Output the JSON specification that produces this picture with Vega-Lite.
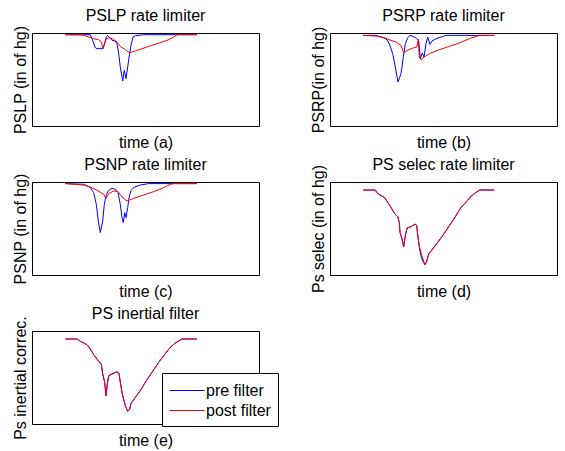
{
  "$schema": "https://vega.github.io/schema/vega-lite/v6.json",
  "background": "white",
  "padding": {"left": 11, "top": 7, "right": 4, "bottom": 2},
  "bounds": "flush",
  "config": {
    "font": "Liberation Sans",
    "view": {"stroke": "black", "strokeWidth": 1},
    "title": {"fontSize": 16, "fontWeight": "normal", "color": "black", "font": "Liberation Sans", "offset": 1},
    "axis": {"domain": false, "ticks": false, "labels": false, "grid": false, "titleFontSize": 16, "titleFontWeight": "normal", "titleColor": "black", "titleFont": "Liberation Sans"},
    "axisX": {"titlePadding": 8},
    "axisY": {"titlePadding": 4},
    "line": {"strokeWidth": 1}
  },
  "datasets": {
    "a": [
      {"series": "pre filter", "time": 33.3, "value": 91.3},
      {"series": "pre filter", "time": 45, "value": 91.3},
      {"series": "pre filter", "time": 58.3, "value": 91.3},
      {"series": "pre filter", "time": 60, "value": 87.3},
      {"series": "pre filter", "time": 63.3, "value": 78.3},
      {"series": "pre filter", "time": 65, "value": 77.3},
      {"series": "pre filter", "time": 71, "value": 77.3},
      {"series": "pre filter", "time": 74.3, "value": 89},
      {"series": "pre filter", "time": 75.7, "value": 90.6},
      {"series": "pre filter", "time": 77.7, "value": 88.3},
      {"series": "pre filter", "time": 80, "value": 85.6},
      {"series": "pre filter", "time": 83.3, "value": 85},
      {"series": "pre filter", "time": 85, "value": 82.3},
      {"series": "pre filter", "time": 86.7, "value": 72.3},
      {"series": "pre filter", "time": 88.3, "value": 59},
      {"series": "pre filter", "time": 90.7, "value": 45},
      {"series": "pre filter", "time": 92.3, "value": 55.6},
      {"series": "pre filter", "time": 94, "value": 47.3},
      {"series": "pre filter", "time": 95.7, "value": 59},
      {"series": "pre filter", "time": 97.3, "value": 70.6},
      {"series": "pre filter", "time": 99, "value": 80.6},
      {"series": "pre filter", "time": 101, "value": 89},
      {"series": "pre filter", "time": 103.3, "value": 90.3},
      {"series": "pre filter", "time": 111.7, "value": 91.3},
      {"series": "pre filter", "time": 165, "value": 91.3},
      {"series": "post filter", "time": 33.3, "value": 91.3},
      {"series": "post filter", "time": 51.7, "value": 91},
      {"series": "post filter", "time": 55, "value": 89.6},
      {"series": "post filter", "time": 61.7, "value": 87.3},
      {"series": "post filter", "time": 66.7, "value": 86.3},
      {"series": "post filter", "time": 69.3, "value": 84},
      {"series": "post filter", "time": 71, "value": 77.3},
      {"series": "post filter", "time": 72.7, "value": 82.3},
      {"series": "post filter", "time": 74.3, "value": 87.3},
      {"series": "post filter", "time": 77.7, "value": 88.3},
      {"series": "post filter", "time": 81.7, "value": 86.6},
      {"series": "post filter", "time": 85, "value": 84},
      {"series": "post filter", "time": 88.3, "value": 79.6},
      {"series": "post filter", "time": 93.3, "value": 76.3},
      {"series": "post filter", "time": 97.7, "value": 73.3},
      {"series": "post filter", "time": 105, "value": 75.6},
      {"series": "post filter", "time": 115, "value": 79},
      {"series": "post filter", "time": 125, "value": 82.3},
      {"series": "post filter", "time": 135, "value": 85.6},
      {"series": "post filter", "time": 141.7, "value": 89},
      {"series": "post filter", "time": 145, "value": 91.3},
      {"series": "post filter", "time": 165, "value": 91.3}
    ],
    "b": [
      {"series": "pre filter", "time": 33.3, "value": 90.6},
      {"series": "pre filter", "time": 46, "value": 90.6},
      {"series": "pre filter", "time": 51, "value": 89},
      {"series": "pre filter", "time": 56, "value": 87.3},
      {"series": "pre filter", "time": 59.3, "value": 82.3},
      {"series": "pre filter", "time": 62.7, "value": 72.3},
      {"series": "pre filter", "time": 65.3, "value": 59},
      {"series": "pre filter", "time": 68, "value": 44},
      {"series": "pre filter", "time": 71, "value": 52.3},
      {"series": "pre filter", "time": 73.3, "value": 69},
      {"series": "pre filter", "time": 75.3, "value": 82.3},
      {"series": "pre filter", "time": 77.7, "value": 88.3},
      {"series": "pre filter", "time": 80, "value": 90.6},
      {"series": "pre filter", "time": 83.3, "value": 89.6},
      {"series": "pre filter", "time": 86.7, "value": 87.3},
      {"series": "pre filter", "time": 88.7, "value": 85.6},
      {"series": "pre filter", "time": 90.3, "value": 67.3},
      {"series": "pre filter", "time": 92.3, "value": 73},
      {"series": "pre filter", "time": 94, "value": 69},
      {"series": "pre filter", "time": 96, "value": 82.3},
      {"series": "pre filter", "time": 97.7, "value": 89},
      {"series": "pre filter", "time": 100, "value": 81.6},
      {"series": "pre filter", "time": 102, "value": 85},
      {"series": "pre filter", "time": 106, "value": 87.3},
      {"series": "pre filter", "time": 111, "value": 89},
      {"series": "pre filter", "time": 116, "value": 90.6},
      {"series": "pre filter", "time": 164.3, "value": 90.6},
      {"series": "post filter", "time": 33.3, "value": 90.6},
      {"series": "post filter", "time": 46, "value": 90},
      {"series": "post filter", "time": 54.3, "value": 88.3},
      {"series": "post filter", "time": 61, "value": 85.6},
      {"series": "post filter", "time": 66, "value": 84},
      {"series": "post filter", "time": 71, "value": 80.6},
      {"series": "post filter", "time": 73.7, "value": 73},
      {"series": "post filter", "time": 76, "value": 75},
      {"series": "post filter", "time": 81, "value": 77.3},
      {"series": "post filter", "time": 86.7, "value": 79},
      {"series": "post filter", "time": 88.3, "value": 86.3},
      {"series": "post filter", "time": 89.3, "value": 69},
      {"series": "post filter", "time": 91, "value": 66.3},
      {"series": "post filter", "time": 94.3, "value": 69},
      {"series": "post filter", "time": 99.3, "value": 72.3},
      {"series": "post filter", "time": 109.3, "value": 76.3},
      {"series": "post filter", "time": 119.3, "value": 79.6},
      {"series": "post filter", "time": 129.3, "value": 83},
      {"series": "post filter", "time": 139.3, "value": 87.3},
      {"series": "post filter", "time": 147.7, "value": 90},
      {"series": "post filter", "time": 149.3, "value": 90.6},
      {"series": "post filter", "time": 164.3, "value": 90.6}
    ],
    "c": [
      {"series": "pre filter", "time": 33.3, "value": 91.4},
      {"series": "pre filter", "time": 51.7, "value": 90.7},
      {"series": "pre filter", "time": 58.3, "value": 87.4},
      {"series": "pre filter", "time": 61.7, "value": 82.4},
      {"series": "pre filter", "time": 64.3, "value": 70.7},
      {"series": "pre filter", "time": 66.3, "value": 54},
      {"series": "pre filter", "time": 68.3, "value": 42.4},
      {"series": "pre filter", "time": 70.7, "value": 54},
      {"series": "pre filter", "time": 72.3, "value": 70.7},
      {"series": "pre filter", "time": 74.3, "value": 80.7},
      {"series": "pre filter", "time": 76.7, "value": 84.7},
      {"series": "pre filter", "time": 80, "value": 86.7},
      {"series": "pre filter", "time": 83.3, "value": 85.7},
      {"series": "pre filter", "time": 86, "value": 82.4},
      {"series": "pre filter", "time": 88.3, "value": 70.7},
      {"series": "pre filter", "time": 90, "value": 57.4},
      {"series": "pre filter", "time": 91.3, "value": 52.4},
      {"series": "pre filter", "time": 92.7, "value": 62.4},
      {"series": "pre filter", "time": 94, "value": 57.4},
      {"series": "pre filter", "time": 95.7, "value": 67.4},
      {"series": "pre filter", "time": 97, "value": 77.4},
      {"series": "pre filter", "time": 99, "value": 84.7},
      {"series": "pre filter", "time": 102.3, "value": 88},
      {"series": "pre filter", "time": 108.3, "value": 90},
      {"series": "pre filter", "time": 116.7, "value": 91.4},
      {"series": "pre filter", "time": 165, "value": 91.4},
      {"series": "post filter", "time": 33.3, "value": 91.4},
      {"series": "post filter", "time": 51.7, "value": 90},
      {"series": "post filter", "time": 58.3, "value": 88},
      {"series": "post filter", "time": 65, "value": 84.7},
      {"series": "post filter", "time": 71.7, "value": 80.7},
      {"series": "post filter", "time": 74, "value": 76.7},
      {"series": "post filter", "time": 76.7, "value": 81.4},
      {"series": "post filter", "time": 81.7, "value": 84},
      {"series": "post filter", "time": 86, "value": 83.4},
      {"series": "post filter", "time": 90, "value": 78},
      {"series": "post filter", "time": 95, "value": 74},
      {"series": "post filter", "time": 101.7, "value": 76.7},
      {"series": "post filter", "time": 111.7, "value": 80},
      {"series": "post filter", "time": 121.7, "value": 83.4},
      {"series": "post filter", "time": 131.7, "value": 87.4},
      {"series": "post filter", "time": 138.3, "value": 90.7},
      {"series": "post filter", "time": 141.7, "value": 91.4},
      {"series": "post filter", "time": 165, "value": 91.4}
    ],
    "d": [
      {"series": "pre filter", "time": 33.3, "value": 85},
      {"series": "pre filter", "time": 45.3, "value": 85},
      {"series": "pre filter", "time": 46.7, "value": 82.7},
      {"series": "pre filter", "time": 49.3, "value": 80.3},
      {"series": "pre filter", "time": 54.3, "value": 77.7},
      {"series": "pre filter", "time": 57.7, "value": 72.7},
      {"series": "pre filter", "time": 61, "value": 67.7},
      {"series": "pre filter", "time": 64.3, "value": 61.7},
      {"series": "pre filter", "time": 67.7, "value": 58.3},
      {"series": "pre filter", "time": 69.3, "value": 52.7},
      {"series": "pre filter", "time": 70, "value": 42.7},
      {"series": "pre filter", "time": 72, "value": 36},
      {"series": "pre filter", "time": 73.7, "value": 28.3},
      {"series": "pre filter", "time": 75.3, "value": 39.3},
      {"series": "pre filter", "time": 77, "value": 47},
      {"series": "pre filter", "time": 81, "value": 48.3},
      {"series": "pre filter", "time": 85.3, "value": 51},
      {"series": "pre filter", "time": 86.7, "value": 49.3},
      {"series": "pre filter", "time": 88, "value": 37.7},
      {"series": "pre filter", "time": 89.3, "value": 27.7},
      {"series": "pre filter", "time": 91.3, "value": 17.7},
      {"series": "pre filter", "time": 93.3, "value": 12.7},
      {"series": "pre filter", "time": 95, "value": 10.3},
      {"series": "pre filter", "time": 96.7, "value": 13.7},
      {"series": "pre filter", "time": 98.7, "value": 21},
      {"series": "pre filter", "time": 102.7, "value": 26},
      {"series": "pre filter", "time": 107.7, "value": 32.7},
      {"series": "pre filter", "time": 112.7, "value": 39.3},
      {"series": "pre filter", "time": 119.3, "value": 49.3},
      {"series": "pre filter", "time": 126, "value": 59.3},
      {"series": "pre filter", "time": 131, "value": 67.7},
      {"series": "pre filter", "time": 136, "value": 72.7},
      {"series": "pre filter", "time": 140, "value": 77.7},
      {"series": "pre filter", "time": 146, "value": 82.7},
      {"series": "pre filter", "time": 150, "value": 85},
      {"series": "pre filter", "time": 164.3, "value": 85},
      {"series": "post filter", "time": 33.3, "value": 85},
      {"series": "post filter", "time": 45.3, "value": 85},
      {"series": "post filter", "time": 46.7, "value": 82.7},
      {"series": "post filter", "time": 49.3, "value": 80.3},
      {"series": "post filter", "time": 54.3, "value": 77.7},
      {"series": "post filter", "time": 57.7, "value": 72.7},
      {"series": "post filter", "time": 61, "value": 67.7},
      {"series": "post filter", "time": 64.3, "value": 61.7},
      {"series": "post filter", "time": 67.7, "value": 58.3},
      {"series": "post filter", "time": 69.3, "value": 52.7},
      {"series": "post filter", "time": 70, "value": 42.7},
      {"series": "post filter", "time": 72, "value": 36},
      {"series": "post filter", "time": 73.7, "value": 28.3},
      {"series": "post filter", "time": 75.3, "value": 39.3},
      {"series": "post filter", "time": 77, "value": 47},
      {"series": "post filter", "time": 81, "value": 48.3},
      {"series": "post filter", "time": 85.3, "value": 51},
      {"series": "post filter", "time": 86.7, "value": 49.3},
      {"series": "post filter", "time": 88, "value": 37.7},
      {"series": "post filter", "time": 89.3, "value": 29.3},
      {"series": "post filter", "time": 91.3, "value": 21},
      {"series": "post filter", "time": 93.3, "value": 15},
      {"series": "post filter", "time": 95, "value": 10.3},
      {"series": "post filter", "time": 96.7, "value": 13.7},
      {"series": "post filter", "time": 98.7, "value": 21},
      {"series": "post filter", "time": 102.7, "value": 26},
      {"series": "post filter", "time": 107.7, "value": 32.7},
      {"series": "post filter", "time": 112.7, "value": 39.3},
      {"series": "post filter", "time": 119.3, "value": 49.3},
      {"series": "post filter", "time": 126, "value": 59.3},
      {"series": "post filter", "time": 131, "value": 67.7},
      {"series": "post filter", "time": 136, "value": 72.7},
      {"series": "post filter", "time": 140, "value": 77.7},
      {"series": "post filter", "time": 146, "value": 82.7},
      {"series": "post filter", "time": 150, "value": 85},
      {"series": "post filter", "time": 164.3, "value": 85}
    ],
    "e": [
      {"series": "pre filter", "time": 33.3, "value": 85},
      {"series": "pre filter", "time": 45, "value": 85},
      {"series": "pre filter", "time": 48.3, "value": 82.7},
      {"series": "pre filter", "time": 55, "value": 79.3},
      {"series": "pre filter", "time": 58.3, "value": 75},
      {"series": "pre filter", "time": 61.7, "value": 69.3},
      {"series": "pre filter", "time": 66.7, "value": 62.7},
      {"series": "pre filter", "time": 69.3, "value": 60},
      {"series": "pre filter", "time": 70.7, "value": 50},
      {"series": "pre filter", "time": 72.7, "value": 41.7},
      {"series": "pre filter", "time": 74, "value": 28.3},
      {"series": "pre filter", "time": 75.3, "value": 40},
      {"series": "pre filter", "time": 76.7, "value": 48.3},
      {"series": "pre filter", "time": 80, "value": 50},
      {"series": "pre filter", "time": 85, "value": 52.3},
      {"series": "pre filter", "time": 87, "value": 50.7},
      {"series": "pre filter", "time": 88.3, "value": 41.7},
      {"series": "pre filter", "time": 90.3, "value": 30},
      {"series": "pre filter", "time": 93.3, "value": 18.3},
      {"series": "pre filter", "time": 95.7, "value": 12.7},
      {"series": "pre filter", "time": 97.7, "value": 15},
      {"series": "pre filter", "time": 99, "value": 20.7},
      {"series": "pre filter", "time": 103.3, "value": 26.7},
      {"series": "pre filter", "time": 108.3, "value": 33.3},
      {"series": "pre filter", "time": 113.3, "value": 41.7},
      {"series": "pre filter", "time": 120, "value": 51.7},
      {"series": "pre filter", "time": 126.7, "value": 61.7},
      {"series": "pre filter", "time": 131.7, "value": 68.3},
      {"series": "pre filter", "time": 138.3, "value": 76.7},
      {"series": "pre filter", "time": 143.3, "value": 81},
      {"series": "pre filter", "time": 150, "value": 85},
      {"series": "pre filter", "time": 165, "value": 85},
      {"series": "post filter", "time": 33.3, "value": 85},
      {"series": "post filter", "time": 45, "value": 85},
      {"series": "post filter", "time": 48.3, "value": 82.7},
      {"series": "post filter", "time": 55, "value": 79.3},
      {"series": "post filter", "time": 58.3, "value": 75},
      {"series": "post filter", "time": 61.7, "value": 69.3},
      {"series": "post filter", "time": 66.7, "value": 62.7},
      {"series": "post filter", "time": 69.3, "value": 60},
      {"series": "post filter", "time": 70.7, "value": 50},
      {"series": "post filter", "time": 72.7, "value": 41.7},
      {"series": "post filter", "time": 74, "value": 28.3},
      {"series": "post filter", "time": 75.3, "value": 40},
      {"series": "post filter", "time": 76.7, "value": 48.3},
      {"series": "post filter", "time": 80, "value": 50},
      {"series": "post filter", "time": 85, "value": 52.3},
      {"series": "post filter", "time": 87, "value": 50.7},
      {"series": "post filter", "time": 88.3, "value": 41.7},
      {"series": "post filter", "time": 90.3, "value": 30},
      {"series": "post filter", "time": 93.3, "value": 18.3},
      {"series": "post filter", "time": 95.7, "value": 12.7},
      {"series": "post filter", "time": 97.7, "value": 15},
      {"series": "post filter", "time": 99, "value": 20.7},
      {"series": "post filter", "time": 103.3, "value": 26.7},
      {"series": "post filter", "time": 108.3, "value": 33.3},
      {"series": "post filter", "time": 113.3, "value": 41.7},
      {"series": "post filter", "time": 120, "value": 51.7},
      {"series": "post filter", "time": 126.7, "value": 61.7},
      {"series": "post filter", "time": 131.7, "value": 68.3},
      {"series": "post filter", "time": 138.3, "value": 76.7},
      {"series": "post filter", "time": 143.3, "value": 81},
      {"series": "post filter", "time": 150, "value": 85},
      {"series": "post filter", "time": 165, "value": 85}
    ]
  },
  "columns": 2,
  "spacing": {"row": 56, "column": 71},
  "resolve": {"scale": {"x": "independent", "y": "independent", "color": "independent"}, "legend": {"color": "independent"}},
  "concat": [
    {
      "width": 227, "height": 93,
      "title": {"text": "PSLP rate limiter", "offset": 1},
      "data": {"name": "a"},
      "mark": {"type": "line", "strokeWidth": 1},
      "encoding": {
        "x": {"field": "time", "type": "quantitative", "scale": {"domain": [0, 227]}, "axis": {"title": "time (a)"}},
        "y": {"field": "value", "type": "quantitative", "scale": {"domain": [0, 93]}, "axis": {"title": "PSLP (in of hg)"}},
        "color": {"field": "series", "type": "nominal", "scale": {"domain": ["pre filter", "post filter"], "range": ["#0000ff", "#ff0000"]}, "legend": null}
      }
    },
    {
      "width": 227, "height": 93,
      "title": {"text": "PSRP rate limiter", "offset": 2},
      "data": {"name": "b"},
      "mark": {"type": "line", "strokeWidth": 1},
      "encoding": {
        "x": {"field": "time", "type": "quantitative", "scale": {"domain": [0, 227]}, "axis": {"title": "time (b)"}},
        "y": {"field": "value", "type": "quantitative", "scale": {"domain": [0, 93]}, "axis": {"title": "PSRP(in of hg)"}},
        "color": {"field": "series", "type": "nominal", "scale": {"domain": ["pre filter", "post filter"], "range": ["#0000ff", "#ff0000"]}, "legend": null}
      }
    },
    {
      "width": 227, "height": 93,
      "title": {"text": "PSNP rate limiter", "offset": -0.4},
      "data": {"name": "c"},
      "mark": {"type": "line", "strokeWidth": 1},
      "encoding": {
        "x": {"field": "time", "type": "quantitative", "scale": {"domain": [0, 227]}, "axis": {"title": "time (c)"}},
        "y": {"field": "value", "type": "quantitative", "scale": {"domain": [0, 93]}, "axis": {"title": "PSNP (in of hg)"}},
        "color": {"field": "series", "type": "nominal", "scale": {"domain": ["pre filter", "post filter"], "range": ["#0000ff", "#ff0000"]}, "legend": null}
      }
    },
    {
      "width": 227, "height": 93,
      "title": {"text": "PS selec rate limiter", "offset": -8.8},
      "data": {"name": "d"},
      "mark": {"type": "line", "strokeWidth": 1},
      "encoding": {
        "x": {"field": "time", "type": "quantitative", "scale": {"domain": [0, 227]}, "axis": {"title": "time (d)"}},
        "y": {"field": "value", "type": "quantitative", "scale": {"domain": [0, 93]}, "axis": {"title": "Ps selec (in of hg)"}},
        "color": {"field": "series", "type": "nominal", "scale": {"domain": ["pre filter", "post filter"], "range": ["#0000ff", "#ff0000"]}, "legend": null}
      }
    },
    {
      "width": 227, "height": 93,
      "title": {"text": "PS inertial filter", "offset": -6.6},
      "data": {"name": "e"},
      "mark": {"type": "line", "strokeWidth": 1},
      "encoding": {
        "x": {"field": "time", "type": "quantitative", "scale": {"domain": [0, 227]}, "axis": {"title": "time (e)"}},
        "y": {"field": "value", "type": "quantitative", "scale": {"domain": [0, 93]}, "axis": {"title": "Ps inertial correc."}},
        "color": {"field": "series", "type": "nominal", "scale": {"domain": ["pre filter", "post filter"], "range": ["#0000ff", "#ff0000"]},
          "legend": {"orient": "none", "legendX": 130, "legendY": 42, "title": null, "symbolType": "M-1,0H2.5", "symbolSize": 400, "symbolStrokeWidth": 1, "labelOffset": 16, "labelFontSize": 16, "labelFont": "Liberation Sans", "labelColor": "black", "labelLimit": 200, "padding": 7, "rowPadding": 1, "strokeColor": "black", "fillColor": "white"}}
      }
    }
  ]
}
